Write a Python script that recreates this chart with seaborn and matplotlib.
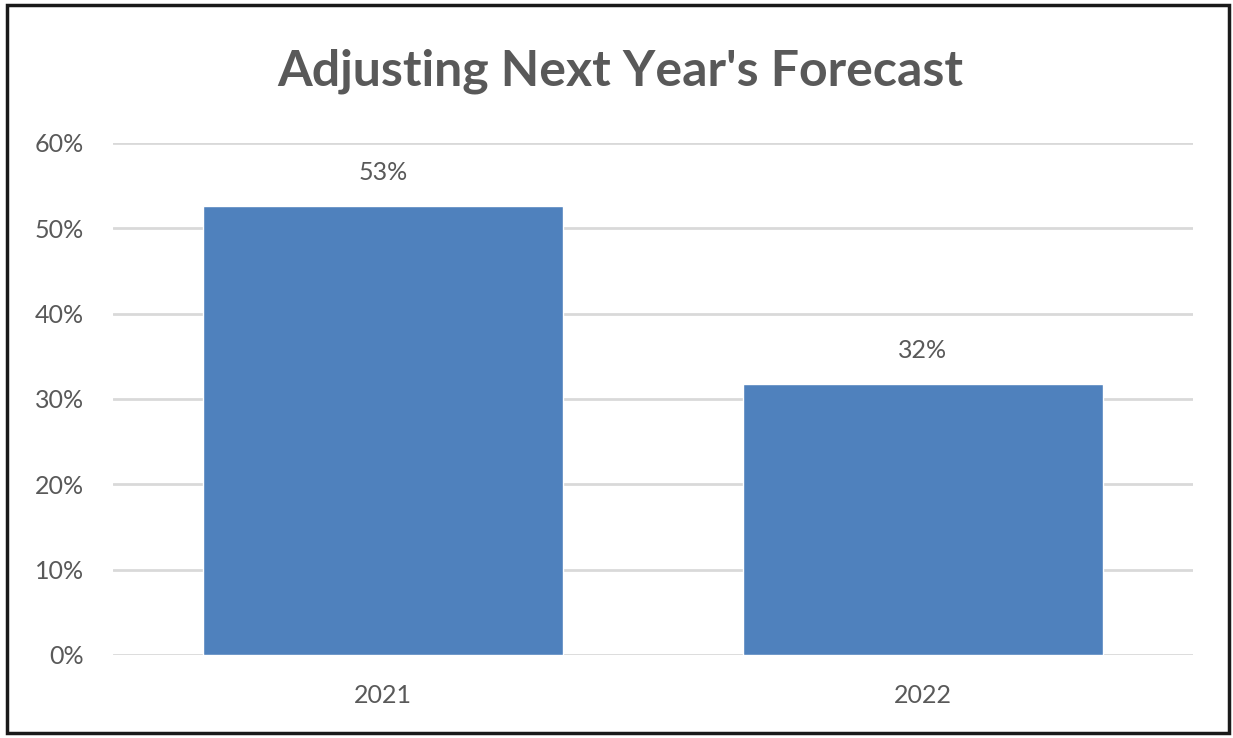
import matplotlib
matplotlib.use("Agg")
import matplotlib.pyplot as plt
from matplotlib.patches import Rectangle
from matplotlib.ticker import PercentFormatter
import seaborn as sns
import pandas as pd

years = ["2021", "2022"]
share = [0.526, 0.318]
y_ticks = [0.0, 0.1, 0.2, 0.3, 0.4, 0.5, 0.6]
title = "Adjusting Next Year's Forecast"

sns.set_theme(style="white")
plt.rcParams["font.family"] = ["Lato", "DejaVu Sans"]

W, H = 1233, 738
fig = plt.figure(figsize=(W / 100, H / 100), dpi=100)
fig.patch.set_facecolor("white")

ax = fig.add_axes([113 / W, (H - 655) / H, (1193 - 113) / W, (655 - 143) / H])
df = pd.DataFrame({"year": years, "share": share})
sns.barplot(data=df, x="year", y="share", color="#4F81BD", saturation=1,
            width=0.667, ax=ax, zorder=3)

ax.set_xlim(-0.5, 1.5)
ax.set_ylim(0, 0.6)
ax.set_yticks(y_ticks)
ax.yaxis.set_major_formatter(PercentFormatter(1.0, decimals=0))
ax.grid(axis="y", color="#D9D9D9", linewidth=2, zorder=0)
ax.set_axisbelow(True)
for s in ax.spines.values():
    s.set_visible(False)
ax.set_xlabel("")
ax.set_ylabel("")
ax.tick_params(axis="both", length=0, labelsize=18, labelcolor="#595959")
ax.tick_params(axis="y", pad=21)
ax.tick_params(axis="x", pad=21)

for p, v in zip(ax.patches, share):
    ax.annotate(f"{round(v * 100):.0f}%",
                (p.get_x() + p.get_width() / 2, p.get_height()),
                xytext=(0, 24), textcoords="offset points",
                ha="center", va="center", fontsize=18, color="#595959")

fig.text(620 / W, 1 - 71 / H, title, ha="center", va="center",
         fontsize=36, fontweight="bold", color="#595959")

fig.patches.append(Rectangle((7 / W, 5 / H), (1229 - 7) / W, (733 - 5) / H,
                             transform=fig.transFigure, fill=False,
                             edgecolor="#1a1a1a", linewidth=2.5))

fig.savefig("out.png", dpi=100, facecolor="white")
